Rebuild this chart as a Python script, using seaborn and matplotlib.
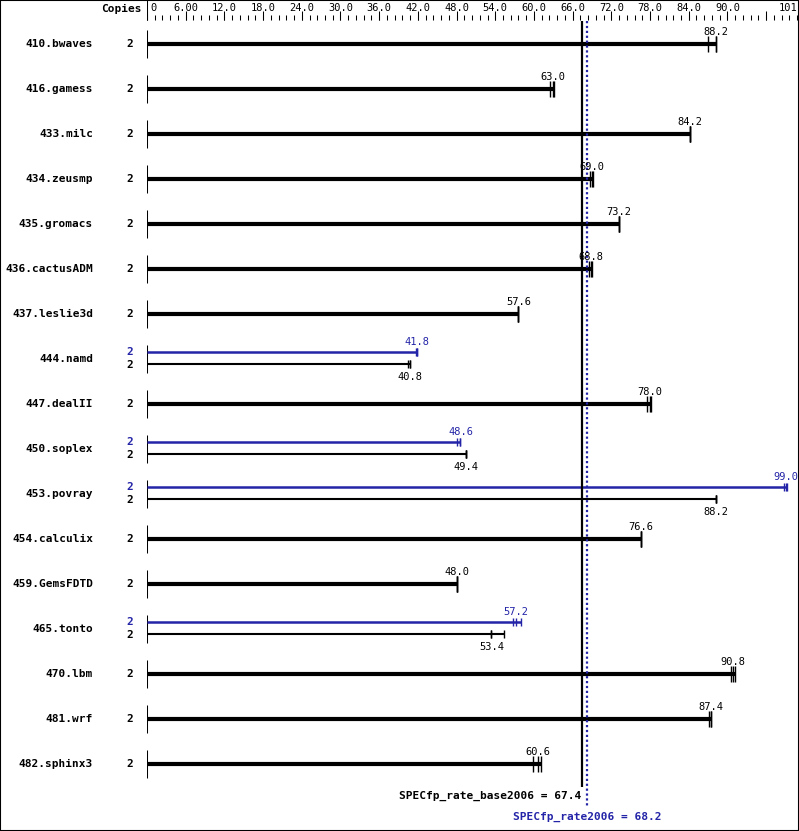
import numpy as np
import pandas as pd
import matplotlib
matplotlib.use("Agg")
import matplotlib.pyplot as plt
import seaborn as sns
from matplotlib.patches import Rectangle

sns.set_theme(style="white")
plt.rcParams['font.family'] = ['DejaVu Sans Mono', 'DejaVu Sans']
plt.rcParams['text.color'] = 'black'

# datos
benchmarks = ["410.bwaves", "416.gamess", "433.milc", "434.zeusmp", "435.gromacs",
              "436.cactusADM", "437.leslie3d", "444.namd", "447.dealII", "450.soplex",
              "453.povray", "454.calculix", "459.GemsFDTD", "465.tonto", "470.lbm",
              "481.wrf", "482.sphinx3"]
copies = [2] * 17
base_runs = [[87.0, 88.2, 88.3], [62.5, 63.0, 63.1], [84.2, 84.2, 84.2],
             [68.7, 69.0, 69.2], [73.2, 73.2, 73.2], [68.5, 68.8, 69.0],
             [57.6, 57.6, 57.6], [40.5, 40.8, 40.8], [77.6, 78.0, 78.1],
             [49.4, 49.4, 49.4], [88.2, 88.2, 88.2], [76.6, 76.6, 76.6],
             [48.0, 48.0, 48.0], [53.3, 53.4, 55.3], [90.6, 90.8, 91.1],
             [87.1, 87.4, 87.4], [59.8, 60.6, 61.1]]
peak_runs = {"444.namd": [41.7, 41.8, 41.8],
             "450.soplex": [48.0, 48.6, 48.6],
             "453.povray": [98.7, 99.0, 99.2],
             "465.tonto": [56.7, 57.2, 58.0]}
base_mean = 67.4
peak_mean = 68.2
major_ticks = [0, 6, 12, 18, 24, 30, 36, 42, 48, 54, 60, 66, 72, 78, 84, 90, 96, 101]
major_labels = ["0", "6.00", "12.0", "18.0", "24.0", "30.0", "36.0", "42.0", "48.0",
                "54.0", "60.0", "66.0", "72.0", "78.0", "84.0", "90.0", "", "101"]
xmax = 101

BLUE = "#2424a8"
W, H = 799, 831
left_px, right_px = 147, 798.4
px = xmax / (right_px - left_px)   # unidades por pixel

fig = plt.figure(figsize=(W / 100, H / 100), dpi=100)
ax = fig.add_axes([left_px / W, 0, (right_px - left_px) / W, 1])
ax.set_xlim(0, xmax)
ax.set_ylim(H, 0)
ax.axis('off')
fig.patches.append(Rectangle((0, 0), 1, 1, transform=fig.transFigure, fill=False,
                             edgecolor='black', linewidth=1.5))

# eje superior
minor = np.arange(0, 101, 1.2)
ax.vlines(minor, 15, 20, color='black', lw=0.75)
ax.vlines(major_ticks, 11, 20, color='black', lw=0.75)
ax.vlines(0, 0, 20, color='black', lw=0.75)
for t, lab in zip(major_ticks, major_labels):
    ha = 'left' if t == 0 else ('right' if t == xmax else 'center')
    xx = t + 3 * px if t == 0 else (t - 1 * px if t == xmax else t)
    ax.text(xx, 8, lab, ha=ha, va='center', fontsize=7.5, clip_on=False)
ax.text(-5 * px, 9, "Copies", ha='right', va='center', fontsize=8, weight='bold', clip_on=False)

rows = []
for i, name in enumerate(benchmarks):
    yc = 44 + 45 * i
    ax.vlines(0, yc - 14, yc + 14, color='black', lw=0.75)
    ax.text(-54 * px, yc, name, ha='right', va='center', fontsize=8, weight='bold', clip_on=False)
    b = base_runs[i]
    if name in peak_runs:
        p = peak_runs[name]
        yp, yb = yc - 7, yc + 5
        ax.hlines(yp, 0, max(p), color=BLUE, lw=1.8)
        ax.hlines(yb, 0, max(b), color='black', lw=1.5)
        ax.text(-17 * px, yp, str(copies[i]), ha='center', va='center', fontsize=8,
                weight='bold', color=BLUE, clip_on=False)
        ax.text(-17 * px, yb + 1, str(copies[i]), ha='center', va='center', fontsize=8,
                weight='bold', clip_on=False)
        ax.text(np.median(p), yp - 10, f"{np.median(p):.1f}", ha='center', va='center',
                fontsize=7.5, color=BLUE)
        ax.text(np.median(b), yb + 13, f"{np.median(b):.1f}", ha='center', va='center',
                fontsize=7.5)
        rows += [dict(x=v, y=yp, kind='peak') for v in p]
        rows += [dict(x=v, y=yb, kind='base') for v in b]
    else:
        ax.hlines(yc, 0, max(b), color='black', lw=3)
        ax.text(-17 * px, yc, str(copies[i]), ha='center', va='center', fontsize=8,
                weight='bold', clip_on=False)
        ax.text(np.median(b), yc - 12, f"{np.median(b):.1f}", ha='center', va='center',
                fontsize=7.5)
        rows += [dict(x=v, y=yc, kind='full') for v in b]

runs = pd.DataFrame(rows)
for kind, size, col in [('full', 11, 'black'), ('base', 6, 'black'), ('peak', 6, BLUE)]:
    sub = runs[runs['kind'] == kind]
    sns.scatterplot(data=sub, x='x', y='y', marker='|', s=size ** 2, color=col,
                    linewidth=1, ax=ax, legend=False, clip_on=False)
ax.set_xlim(0, xmax)
ax.set_ylim(H, 0)

# medias globales
ax.vlines(base_mean, 21, 787, color='black', lw=1.6)
ax.vlines(peak_mean, 21, 808, color=BLUE, lw=1.6, linestyles=(0, (1, 1.2)))
ax.text(base_mean, 796, f"SPECfp_rate_base2006 = {base_mean}", ha='right', va='center',
        fontsize=8, weight='bold', clip_on=False)
ax.text(peak_mean, 817, f"SPECfp_rate2006 = {peak_mean}", ha='center', va='center',
        fontsize=8, weight='bold', color=BLUE, clip_on=False)

fig.savefig("out.png", dpi=100)
